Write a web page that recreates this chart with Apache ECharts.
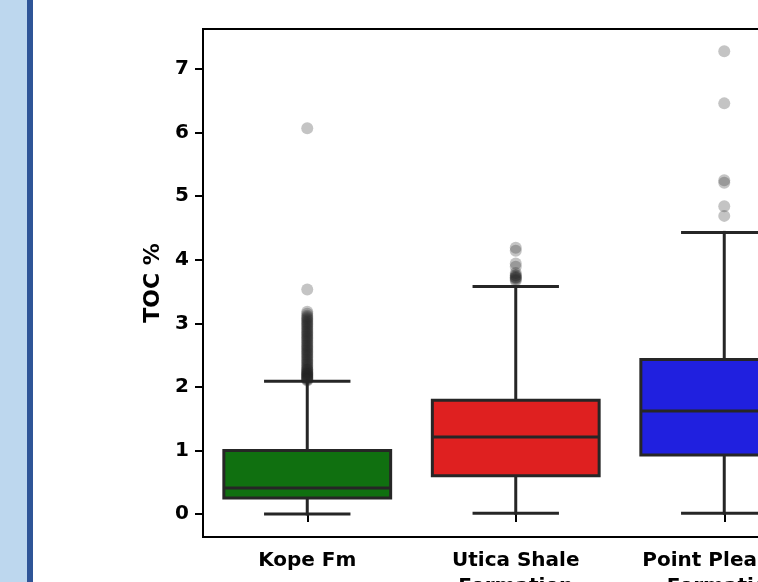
<!DOCTYPE html>
<html><head><meta charset="utf-8">
<script src="https://cdn.jsdelivr.net/npm/echarts@6/dist/echarts.min.js"></script>
<style>html,body{margin:0;padding:0;background:#fff}#c{width:758px;height:582px}</style>
</head><body><div id="c"></div>
<script>
const categories = ['Kope Fm', 'Utica Shale\nFormation', 'Point Pleasant\nFormation'];
const whiskerLow = [0.0, 0.01, 0.01];
const q1 = [0.25, 0.60, 0.93];
const median = [0.41, 1.21, 1.62];
const q3 = [1.00, 1.79, 2.43];
const whiskerHigh = [2.09, 3.58, 4.43];
const kopeOutliers = [6.07, 3.53, 3.18, 3.15, 3.12, 3.10, 3.08, 3.06, 3.04, 3.02, 3.00, 2.98, 2.96, 2.94, 2.92, 2.90, 2.88, 2.86, 2.84, 2.82, 2.80, 2.78, 2.76, 2.74, 2.72, 2.70, 2.68, 2.66, 2.64, 2.62, 2.60, 2.58, 2.56, 2.54, 2.52, 2.50, 2.48, 2.46, 2.44, 2.42, 2.40, 2.38, 2.36, 2.34, 2.32, 2.30, 2.28, 2.27, 2.26, 2.24, 2.23, 2.22, 2.21, 2.20, 2.19, 2.18, 2.17, 2.16, 2.15, 2.14, 2.13, 2.12, 2.11, 2.10];
const uticaOutliers = [4.19, 4.14, 3.94, 3.89, 3.79, 3.76, 3.75, 3.73, 3.72, 3.71, 3.69, 3.67];
const pointPleasantOutliers = [7.28, 6.46, 5.25, 5.21, 4.84, 4.69];
const yTicks = [0, 1, 2, 3, 4, 5, 6, 7];
const boxColors = ['#107010', '#df2020', '#2020df'];
const lineColor = '#262626';
const FONT = 'DejaVu Sans';

const boxData = categories.map((c, i) => [i, whiskerLow[i], q1[i], median[i], q3[i], whiskerHigh[i]]);
const outlierData = [];
[kopeOutliers, uticaOutliers, pointPleasantOutliers].forEach((arr, i) => {
  arr.forEach(v => outlierData.push([i, v]));
});

const chart = echarts.init(document.getElementById('c'), null, {renderer: 'canvas'});
chart.setOption({
  animation: false,
  backgroundColor: '#fff',
  graphic: [
    {type: 'rect', shape: {x: 0, y: 0, width: 27, height: 582}, style: {fill: '#bdd7ee'}, silent: true},
    {type: 'rect', shape: {x: 27, y: 0, width: 6, height: 582}, style: {fill: '#2f5597'}, silent: true},
    {type: 'text', x: 402, y: -9, style: {text: 'TOC Distribution by Formation', font: 'bold 21px "DejaVu Sans"', fill: '#000', verticalAlign: 'middle', align: 'left'}, silent: true}
  ],
  grid: {left: 203, top: 29, width: 625.5, height: 508, outerBoundsMode: 'none', containLabel: false, show: true, borderColor: '#000', borderWidth: 2, backgroundColor: 'transparent'},
  xAxis: {
    type: 'category', data: categories, boundaryGap: true,
    axisLine: {show: false},
    axisTick: {show: true, alignWithLabel: true, length: 8, lineStyle: {color: '#000', width: 2}},
    axisLabel: {interval: 0, fontFamily: FONT, fontSize: 20, fontWeight: 'bold', color: '#000', lineHeight: 26, margin: 11, hideOverlap: false},
    splitLine: {show: false}
  },
  yAxis: {
    type: 'value', min: -0.362, max: 7.63,
    name: 'TOC %', nameLocation: 'middle', nameGap: 33,
    nameTextStyle: {fontFamily: FONT, fontSize: 22, fontWeight: 'bold', color: '#000'},
    axisLine: {show: false},
    axisTick: {show: true, length: 8, lineStyle: {color: '#000', width: 2}, customValues: yTicks},
    axisLabel: {fontFamily: FONT, fontSize: 20, fontWeight: 'bold', color: '#000', margin: 14, customValues: yTicks},
    splitLine: {show: false}
  },
  series: [
    {
      type: 'custom', z: 2,
      data: boxData,
      encode: {x: 0, y: [1, 2, 3, 4, 5]},
      renderItem: function (params, api) {
        const i = api.value(0);
        const bw = api.size([1, 0])[0] * 0.8;
        const capW = bw / 2;
        const pLo = api.coord([i, api.value(1)]);
        const pQ1 = api.coord([i, api.value(2)]);
        const pMed = api.coord([i, api.value(3)]);
        const pQ3 = api.coord([i, api.value(4)]);
        const pHi = api.coord([i, api.value(5)]);
        const x = pMed[0];
        const ls = {stroke: lineColor, lineWidth: 3, lineCap: 'square'};
        return {
          type: 'group', children: [
            {type: 'line', shape: {x1: x, y1: pQ3[1], x2: x, y2: pHi[1]}, style: ls},
            {type: 'line', shape: {x1: x, y1: pQ1[1], x2: x, y2: pLo[1]}, style: ls},
            {type: 'line', shape: {x1: x - capW / 2, y1: pHi[1], x2: x + capW / 2, y2: pHi[1]}, style: ls},
            {type: 'line', shape: {x1: x - capW / 2, y1: pLo[1], x2: x + capW / 2, y2: pLo[1]}, style: ls},
            {type: 'rect', shape: {x: x - bw / 2, y: pQ3[1], width: bw, height: pQ1[1] - pQ3[1]}, style: {fill: boxColors[i], stroke: lineColor, lineWidth: 3}},
            {type: 'line', shape: {x1: x - bw / 2, y1: pMed[1], x2: x + bw / 2, y2: pMed[1]}, style: {stroke: lineColor, lineWidth: 3}}
          ]
        };
      }
    },
    {
      type: 'scatter', z: 3,
      data: outlierData,
      symbol: 'circle', symbolSize: 12,
      itemStyle: {color: '#262626', opacity: 0.27},
      silent: true
    }
  ]
});
</script></body></html>
